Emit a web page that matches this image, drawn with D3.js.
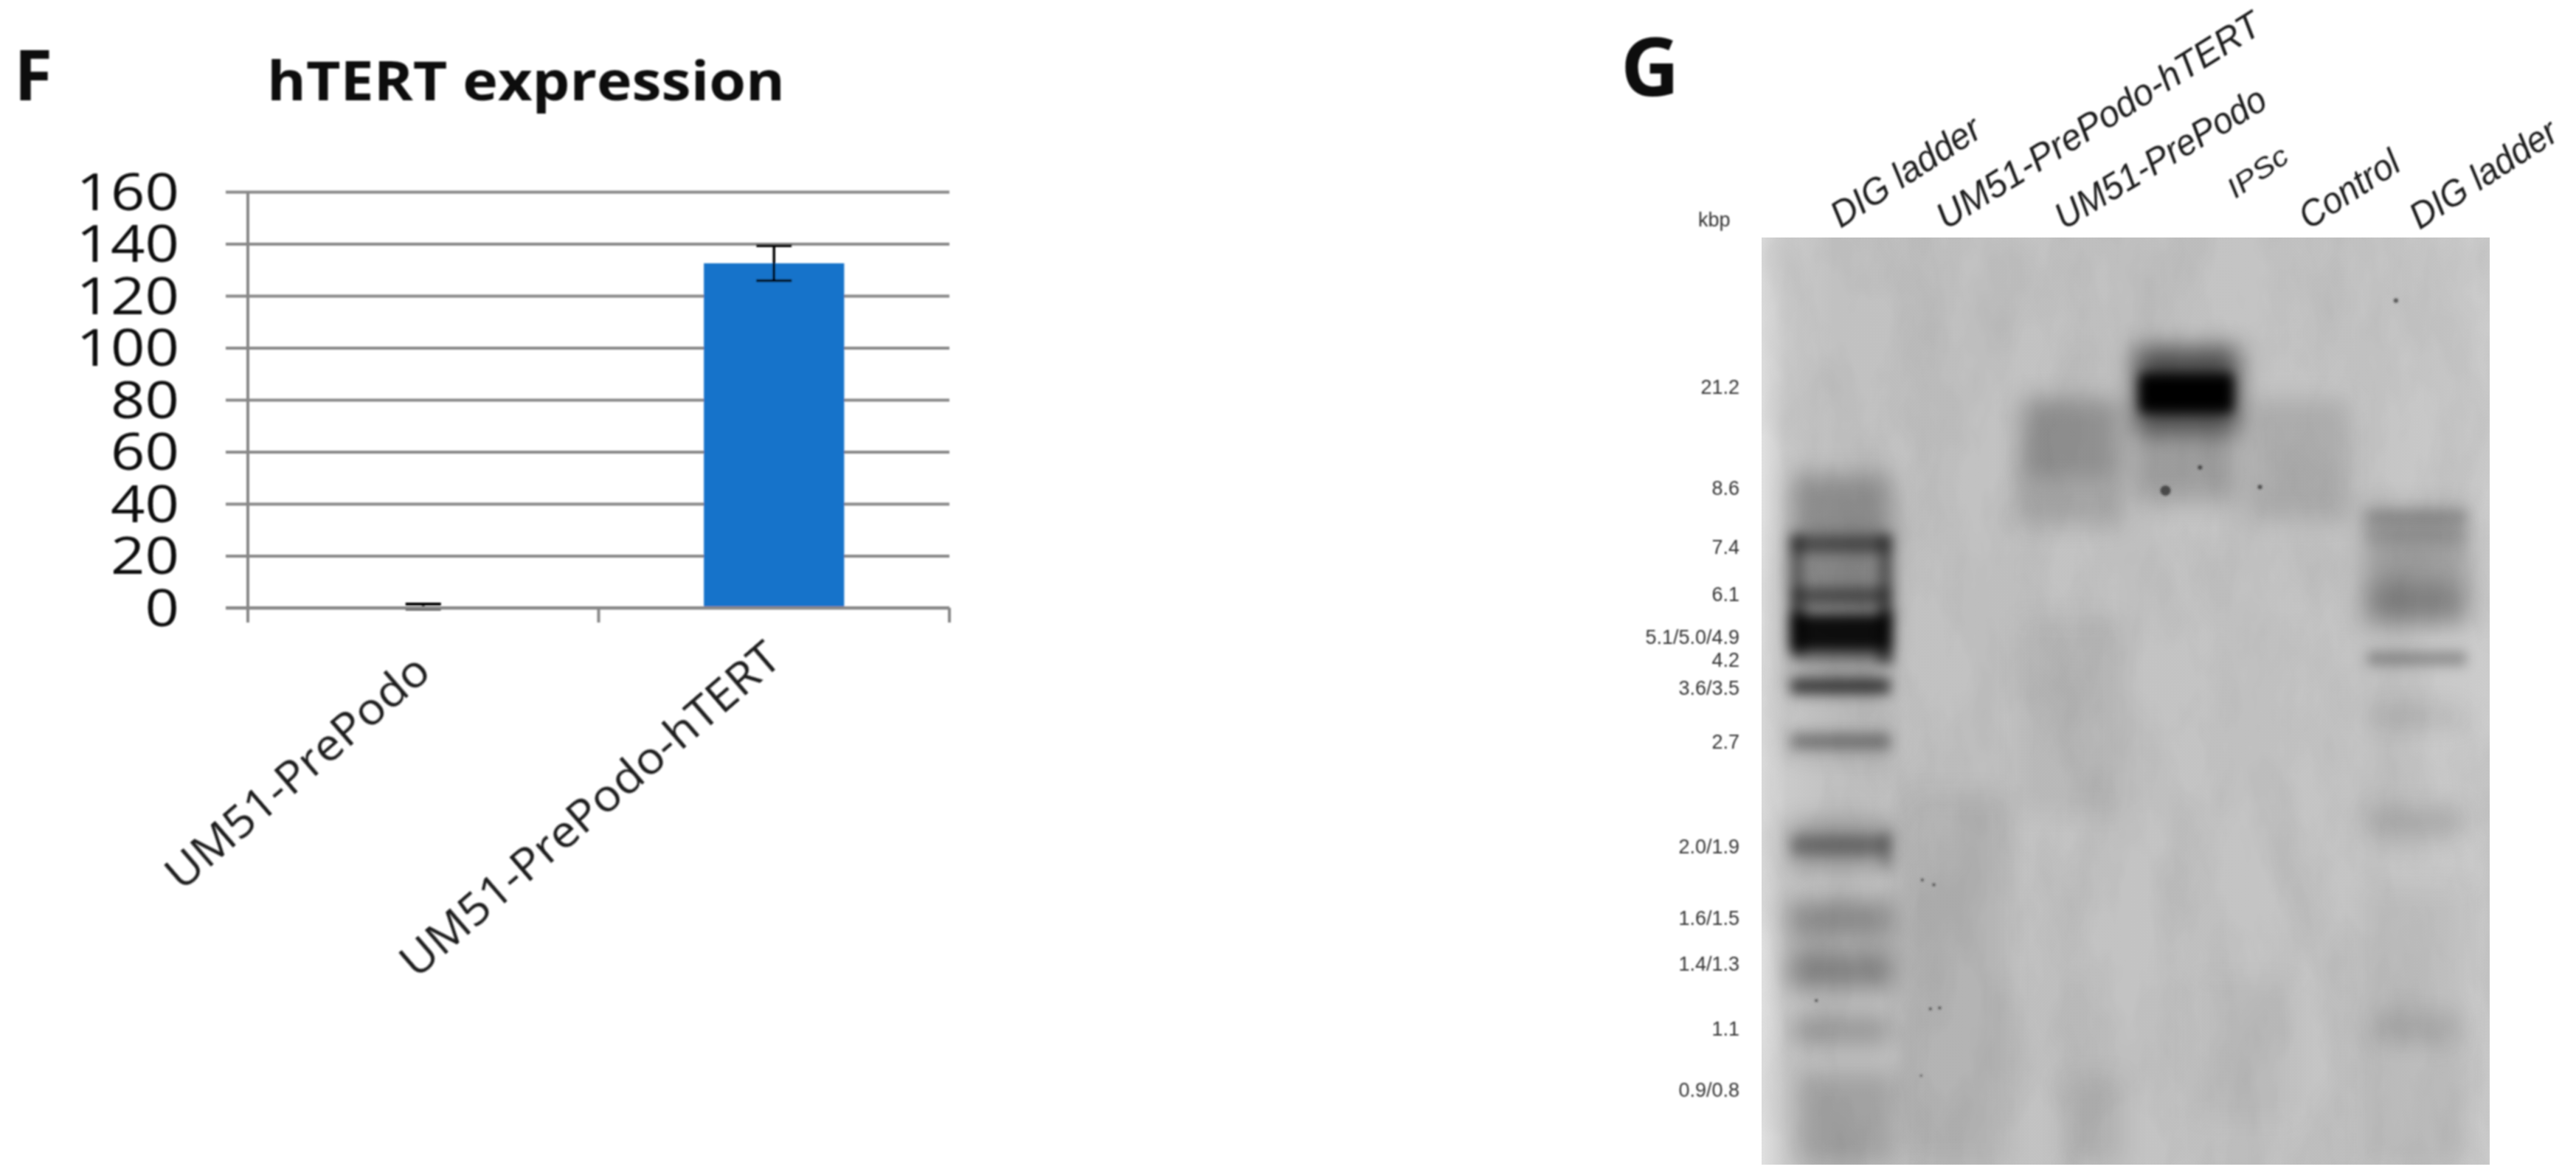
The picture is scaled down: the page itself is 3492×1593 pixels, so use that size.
<!DOCTYPE html>
<html><head><meta charset="utf-8">
<script src="https://cdn.jsdelivr.net/npm/d3@7"></script>
<style>html,body{margin:0;padding:0;background:#fff}svg{display:block}</style>
</head><body><div id="c"></div>
<script>
// ---- panel F data
const categories = ["UM51-PrePodo", "UM51-PrePodo-hTERT"];
const values = [0.5, 132.5];
const errors = [0.9, 6.7];
const yTicks = [0, 20, 40, 60, 80, 100, 120, 140, 160];
// ---- panel G data
const laneLabels = ["DIG ladder", "UM51-PrePodo-hTERT", "UM51-PrePodo", "IPSc", "Control", "DIG ladder"];
const kbpLabels = ["21.2","8.6","7.4","6.1","5.1/5.0/4.9","4.2","3.6/3.5","2.7","2.0/1.9","1.6/1.5","1.4/1.3","1.1","0.9/0.8"];
const kbpMigration = [16.15,27.05,33.4,38.5,43.1,45.6,48.6,54.4,65.7,73.4,78.4,85.4,92.0];
// gel density: [lane, laneWidth, migrationFrom, migrationTo, density]
const gelSmears = [
  [1,0.86,25.5,32.5,0.26],[1,0.86,32.1,45,0.3],[1,0.86,53,56,0.14],[1,0.9,63,68,0.24],[1,0.9,71.5,75.5,0.28],
  [1,0.92,77,81,0.32],[1,0.85,84,87,0.22],[1.05,0.85,90,100,0.16],[0.98,0.85,46,49.5,0.22],
  [2,0.9,60,100,0.07],[3,0.9,41,62,0.05],[3.2,0.5,90.5,100,0.09],[3,0.86,17.4,25.5,0.26],[3,0.86,25,31,0.15],
  [4,0.9,11.8,21,0.6],[4,0.86,20.5,28.5,0.18],[5,0.86,17.4,30.4,0.12],[4.5,0.9,80,95,0.03],
  [6,0.88,29,38,0.2],[6,0.88,37.5,41.6,0.34],[6,0.8,83.5,87,0.12],[6,0.8,61.5,64.5,0.14],[6,0.8,50.8,52.5,0.12],[6,0.9,70,100,0.05]
];
const gelBands = [
  [1,0.86,32.1,34,0.42],[1,0.86,37.7,39.6,0.42],[1,0.88,40.7,44.4,0.9],[1,0.86,44,45.6,0.35],[1,0.86,47.6,49.2,0.62],
  [1,0.86,53.5,55.2,0.3],[1,0.86,64.5,66.6,0.28],[0.62,0.12,32,42,0.4],[1.39,0.12,32,42,0.45],
  [0.63,0.14,40,45,0.5],[1.39,0.14,40,46,0.5],[1.39,0.1,64,68,0.18],
  [4,0.82,15.2,18.3,1],[4,0.8,14.6,19,0.9],
  [6,0.88,29.4,30.8,0.16],[6,0.88,31.2,32.9,0.08],[6,0.86,44.6,46.2,0.28]
];
// dust specks: [lane, migration, size]
const gelSpecks = [[3.82,27.3,7],[4.12,24.8,3],[4.64,26.9,3],[5.82,6.8,3],[1.81,69.8,2],[1.71,69.3,2],[1.78,83.2,2],[1.86,83.1,2],[0.79,82.3,2],[1.70,90.4,1.5]];

const W = 3492, H = 1593;
const svg = d3.select("#c").append("svg").attr("width",W).attr("height",H).attr("viewBox",`0 0 ${W} ${H}`);
svg.append("rect").attr("width",W).attr("height",H).attr("fill","#fff");
const defs = svg.append("defs");
function blur(id,s){defs.append("filter").attr("id",id).attr("filterUnits","userSpaceOnUse")
  .attr("x",0).attr("y",0).attr("width",W).attr("height",H)
  .append("feGaussianBlur").attr("stdDeviation",s);}
blur("txt",1.2);blur("soft",16);blur("sharp",8);blur("speck",1.5);
// mottled film texture
const mot = defs.append("filter").attr("id","mottle").attr("filterUnits","userSpaceOnUse").attr("x",0).attr("y",0).attr("width",W).attr("height",H);
mot.append("feTurbulence").attr("type","fractalNoise").attr("baseFrequency","0.014 0.006").attr("numOctaves",4).attr("seed",7);
mot.append("feColorMatrix").attr("type","matrix").attr("values","0 0 0 0 0  0 0 0 0 0  0 0 0 0 0  1.3 0 0 0 -0.42");
const SANS = "'Open Sans',sans-serif", ARIAL = "'Liberation Sans',Arial,sans-serif";

// ---------- Panel F
const f = svg.append("g").attr("filter","url(#txt)");
f.append("text").text("F").attr("x",19).attr("y",136).attr("font-family",SANS).attr("font-weight",700).attr("font-size",95).attr("fill","#111");
f.append("text").text("hTERT expression").attr("x",362).attr("y",136).attr("font-family",SANS).attr("font-weight",700)
 .attr("font-size",73).attr("textLength",702).attr("lengthAdjust","spacingAndGlyphs").attr("fill","#111");

const x0 = 336, x1 = 1287, y0 = 824, y1 = 260;
const x = d3.scaleBand().domain(categories).range([x0,x1]).paddingInner(0.6).paddingOuter(0.3);
const y = d3.scaleLinear().domain([0,160]).range([y0,y1]);
const GRID = "#878787";

const yAxis = f.append("g").attr("transform",`translate(${x0},0)`).call(d3.axisLeft(y).tickValues(yTicks).tickSize(0));
yAxis.select(".domain").remove();
yAxis.selectAll(".tick line").attr("x1",-30).attr("x2",x1-x0).attr("stroke",GRID).attr("stroke-width",4);
yAxis.selectAll(".tick text").attr("x",-93).attr("dy",null).attr("y",-3).attr("dominant-baseline","central")
  .attr("text-anchor","end").attr("font-family",SANS).attr("font-size",69).attr("fill","#111")
  .attr("textLength",d=>String(d).length*46.5).attr("lengthAdjust","spacingAndGlyphs");

const edges = [x0, (x0+x1)/2, x1];
f.append("line").attr("x1",x0).attr("x2",x0).attr("y1",y1).attr("y2",y0+20).attr("stroke",GRID).attr("stroke-width",4);
f.selectAll("line.tk").data(edges.slice(1)).join("line").attr("class","tk").attr("x1",d=>d).attr("x2",d=>d).attr("y1",y0).attr("y2",y0+20).attr("stroke",GRID).attr("stroke-width",4);

f.selectAll("rect.bar").data(categories).join("rect").attr("class","bar")
  .attr("x",d=>x(d)).attr("width",x.bandwidth())
  .attr("y",(d,i)=>y(values[i])).attr("height",(d,i)=>Math.max(0,y(0)-y(values[i])-2)).attr("fill","#1873ca");
categories.forEach((c,i)=>{
  const cx = x(c)+x.bandwidth()/2, e = f.append("g").attr("stroke","#000").attr("stroke-width",i?3.5:4);
  e.append("line").attr("x1",cx).attr("x2",cx).attr("y1",y(values[i]+errors[i])).attr("y2",y(values[i]-errors[i]));
  [1,-1].forEach(s=>e.append("line").attr("x1",cx-24).attr("x2",cx+24).attr("y1",y(values[i]+s*errors[i])).attr("y2",y(values[i]+s*errors[i])));
  const L = [450,658][i];
  f.append("text").text(c).attr("text-anchor","end")
   .attr("transform",`translate(${cx+13},${y0+[91,74][i]}) rotate(-40.8)`)
   .attr("font-family",SANS).attr("font-size",60).attr("fill","#1a1a1a")
   .attr("textLength",L).attr("lengthAdjust","spacingAndGlyphs");
});
// baseline on top of the marks
f.append("line").attr("x1",x0-30).attr("x2",x1).attr("y1",y(0)).attr("y2",y(0)).attr("stroke",GRID).attr("stroke-width",4);

// ---------- Panel G
const g = svg.append("g");
const gx0 = 2388, gx1 = 3375, gy0 = 322, gy1 = 1579;
const lane = d3.scaleLinear().domain([1,6]).range([2495,3276]);
const mig = d3.scaleLinear().domain([0,100]).range([gy0,gy1]);
const laneStep = lane(2)-lane(1);
const gt = g.append("g").attr("filter","url(#txt)");
gt.append("text").text("G").attr("x",2197).attr("y",130).attr("font-family",SANS).attr("font-weight",700).attr("font-size",110).attr("fill","#111");

defs.append("clipPath").attr("id","gelclip").append("rect").attr("x",gx0).attr("y",gy0).attr("width",gx1-gx0).attr("height",gy1-gy0);
const lg = defs.append("linearGradient").attr("id","gelbg");
[[0,"#e0e0e0"],[0.035,"#cacaca"],[0.1,"#c1c1c1"],[0.5,"#c3c3c3"],[0.85,"#c5c5c5"],[1,"#cccccc"]].forEach(s=>lg.append("stop").attr("offset",s[0]).attr("stop-color",s[1]));
const gel = g.append("g").attr("clip-path","url(#gelclip)");
gel.append("rect").attr("x",gx0).attr("y",gy0).attr("width",gx1-gx0).attr("height",gy1-gy0).attr("fill","url(#gelbg)");
gel.append("rect").attr("x",gx0).attr("y",gy0).attr("width",gx1-gx0).attr("height",gy1-gy0).attr("filter","url(#mottle)").attr("opacity",0.08);
function drawBands(data,filter){
  gel.append("g").attr("filter",filter).selectAll("rect").data(data).join("rect")
    .attr("x",d=>lane(d[0])-d[1]*laneStep/2).attr("width",d=>d[1]*laneStep)
    .attr("y",d=>mig(d[2])).attr("height",d=>mig(d[3])-mig(d[2]))
    .attr("fill","#000").attr("opacity",d=>d[4]);
}
drawBands(gelSmears,"url(#soft)");
drawBands(gelBands,"url(#sharp)");
gel.append("g").attr("filter","url(#speck)").selectAll("circle").data(gelSpecks).join("circle")
  .attr("cx",d=>lane(d[0])).attr("cy",d=>mig(d[1])).attr("r",d=>d[2]).attr("fill","#222").attr("opacity",0.7);

const kt = {"font-family":ARIAL,"font-size":27,"fill":"#333"};
const ktext = gt.selectAll("text.k").data(kbpLabels).join("text").attr("class","k").text(d=>d)
  .attr("text-anchor","end").attr("x",2358).attr("y",(d,i)=>mig(kbpMigration[i])).attr("dominant-baseline","central");
Object.entries(kt).forEach(([k,v])=>ktext.attr(k,v));
const kb = gt.append("text").text("kbp").attr("x",2302).attr("y",mig(-1.9)).attr("dominant-baseline","central");
Object.entries(kt).forEach(([k,v])=>kb.attr(k,v));

// lane label baseline starts, lengths
const laneStarts = [[2495,310,232,-33],[2638,312,508,-32],[2798,312,325,-31],[3030,270,92,-35],[3130,312,152,-33],[3280,312,228,-33]];
const laneSizes = [50,50,50,38,50,50];
laneLabels.forEach((t,i)=>{
  const s = laneStarts[i];
  gt.append("text").text(t).attr("transform",`translate(${s[0]},${s[1]}) rotate(${s[3]})`)
   .attr("font-family",ARIAL).attr("font-style","italic").attr("font-size",laneSizes[i]).attr("fill","#1a1a1a")
   .attr("textLength",s[2]).attr("lengthAdjust","spacingAndGlyphs");
});
</script></body></html>
